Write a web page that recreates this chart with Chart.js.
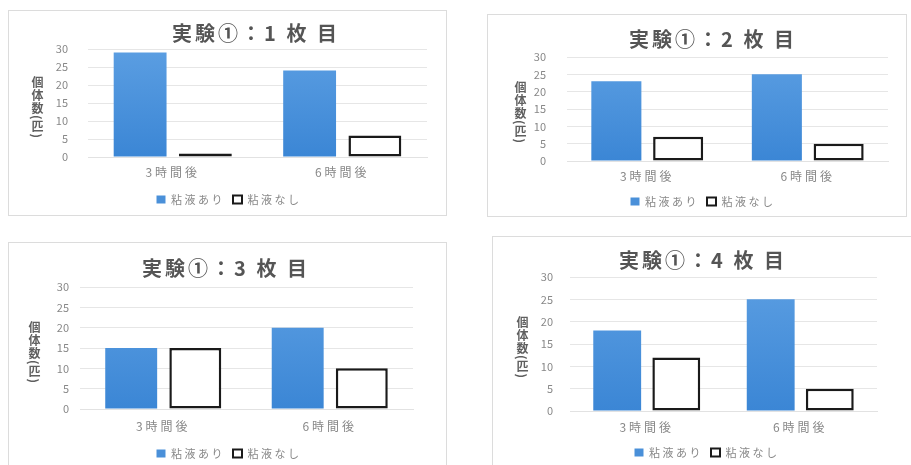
<!DOCTYPE html>
<html>
<head>
<meta charset="utf-8">
<script src="https://cdn.jsdelivr.net/npm/chart.js@4"></script>
<style>
  html, body { margin: 0; padding: 0; background: #fff; width: 911px; height: 465px; overflow: hidden; position: relative; }
  .frame { position: absolute; border: 1px solid #dcdcdc; box-sizing: border-box; background: #fff; }
  canvas { position: absolute; }
  .ytitle { position: absolute; writing-mode: vertical-rl; font-family: "Noto Sans CJK JP", sans-serif; font-size: 12px; font-weight: bold; color: #5f5f5f; line-height: 1; letter-spacing: 1px; }
</style>
</head>
<body>
<script>
// ---- data ----
const categories = ['3時間後', '6時間後'];
const seriesNames = ['粘液あり', '粘液なし'];
const chartTitles = ['実験①：1 枚 目', '実験①：2 枚 目', '実験①：3 枚 目', '実験①：4 枚 目'];
const yAxisTitle = '個体数(匹)';
const yTickValues = [0, 5, 10, 15, 20, 25, 30];
const withMucus1 = [29, 24];
const withoutMucus1 = [1, 6];
const withMucus2 = [23, 25];
const withoutMucus2 = [7, 5];
const withMucus3 = [15, 20];
const withoutMucus3 = [15, 10];
const withMucus4 = [18, 25];
const withoutMucus4 = [12, 5];

// ---- layout (presentation only) ----
const panels = [
  { frame: [8, 10, 439, 206], pad: { left: 25, right: 20, top: 0, bottom: 1 }, tp: [11, 4], xH: 29, xPad: 8, yPad: 20,
    titleX: 256, legendX: 229, yTitle: [31, 76], withM: withMucus1, withoutM: withoutMucus1 },
  { frame: [487, 14, 420, 203], pad: { left: 25, right: 19, top: 0, bottom: 0 }, tp: [13, 6], xH: 27, xPad: 8, yPad: 21,
    titleX: 713, legendX: 703, yTitle: [514, 81], withM: withMucus2, withoutM: withoutMucus2 },
  { frame: [8, 242, 439, 230], pad: { left: 17, right: 34, top: 0, bottom: 3 }, tp: [14, 7], xH: 31, xPad: 10, yPad: 11,
    titleX: 226, legendX: 229, yTitle: [28, 321], withM: withMucus3, withoutM: withoutMucus3 },
  { frame: [492, 236, 425, 235], pad: { left: 23, right: 40, top: 0, bottom: 3 }, tp: [12, 5], xH: 28, xPad: 9, yPad: 17,
    titleX: 703, legendX: 707, yTitle: [516, 316], withM: withMucus4, withoutM: withoutMucus4 }
];

const FONT = '"Noto Sans CJK JP", "Noto Sans", sans-serif';

function withSpacing(obj, method, ls) {
  const orig = obj[method];
  obj[method] = function (...args) {
    const c = this.ctx;
    const prev = c.letterSpacing;
    c.letterSpacing = ls;
    const r = orig.apply(this, args);
    c.letterSpacing = prev;
    return r;
  };
}

panels.forEach((p, i) => {
  const [x, y, w, h] = p.frame;
  const fr = document.createElement('div');
  fr.className = 'frame';
  fr.style.left = x + 'px'; fr.style.top = y + 'px';
  fr.style.width = w + 'px'; fr.style.height = h + 'px';
  document.body.appendChild(fr);

  const cv = document.createElement('canvas');
  cv.width = w; cv.height = h;
  cv.style.left = x + 'px'; cv.style.top = y + 'px';
  cv.style.width = w + 'px'; cv.style.height = h + 'px';
  document.body.appendChild(cv);

  const yt = document.createElement('div');
  yt.className = 'ytitle';
  yt.textContent = yAxisTitle;
  yt.style.left = p.yTitle[0] + 'px'; yt.style.top = p.yTitle[1] + 'px';
  document.body.appendChild(yt);

  const blueGrad = (ctx) => {
    const area = ctx.chart.chartArea;
    if (!area) return '#4a90d9';
    const g = ctx.chart.ctx.createLinearGradient(0, area.top, 0, area.bottom);
    g.addColorStop(0, '#5b9ee2');
    g.addColorStop(1, '#3b86d5');
    return g;
  };

  const spacingPlugin = {
    id: 'spacing' + i,
    beforeLayout(chart) {
      if (chart.$spaced) return;
      chart.$spaced = true;
      withSpacing(chart.titleBlock, 'draw', '3px');
      withSpacing(chart.legend, 'fit', '2.5px');
      withSpacing(chart.legend, 'draw', '2.5px');
      withSpacing(chart.scales.x, 'draw', '3px');
    },
    afterLayout(chart) {
      const tb = chart.titleBlock;
      const dt = (p.titleX - x) - (tb.left + tb.right) / 2;
      tb.left += dt; tb.right += dt;
      const lg = chart.legend;
      const dl = (p.legendX - x) - (lg.left + lg.right) / 2;
      lg.left += dl; lg.right += dl;
    }
  };

  new Chart(cv, {
    type: 'bar',
    data: {
      labels: categories,
      datasets: [
        { label: seriesNames[0], data: p.withM, backgroundColor: blueGrad, borderWidth: 0,
          categoryPercentage: 0.77, barPercentage: 0.81 },
        { label: seriesNames[1], data: p.withoutM, backgroundColor: '#ffffff', borderColor: '#1a1a1a', borderWidth: 2.5,
          borderSkipped: false, categoryPercentage: 0.77, barPercentage: 0.81 }
      ]
    },
    plugins: [spacingPlugin],
    options: {
      responsive: false,
      animation: false,
      layout: { padding: p.pad },
      plugins: {
        title: { display: true, text: chartTitles[i], color: '#555555',
          font: { family: FONT, size: 20, weight: 'bold' }, padding: { top: p.tp[0], bottom: p.tp[1] } },
        legend: { position: 'bottom',
          labels: { font: { family: FONT, size: 11 }, color: '#888', boxWidth: 9, boxHeight: 8, padding: 8,
            generateLabels: (chart) => chart.data.datasets.map((d, k) => ({
              text: d.label, datasetIndex: k,
              fillStyle: k === 0 ? '#4a90d9' : '#ffffff',
              strokeStyle: k === 0 ? '#4a90d9' : '#1a1a1a',
              lineWidth: k === 0 ? 0 : 2, hidden: false, fontColor: '#888'
            })) } },
        tooltip: { enabled: false }
      },
      scales: {
        x: {
          grid: { display: false, drawTicks: false },
          border: { display: true, color: '#e2e2e2' },
          ticks: { font: { family: FONT, size: 12 }, color: '#888', padding: p.xPad },
          afterFit: (s) => { s.height = p.xH; }
        },
        y: {
          min: 0, max: 30,
          afterBuildTicks: (s) => { s.ticks = yTickValues.map(v => ({ value: v })); },
          grid: { color: '#e6e6e6', drawTicks: false },
          border: { display: false },
          ticks: { font: { family: FONT, size: 11 }, color: '#888', padding: p.yPad },
          afterFit: (s) => { s.width = 55; }
        }
      }
    }
  });
});
</script>
</body>
</html>
